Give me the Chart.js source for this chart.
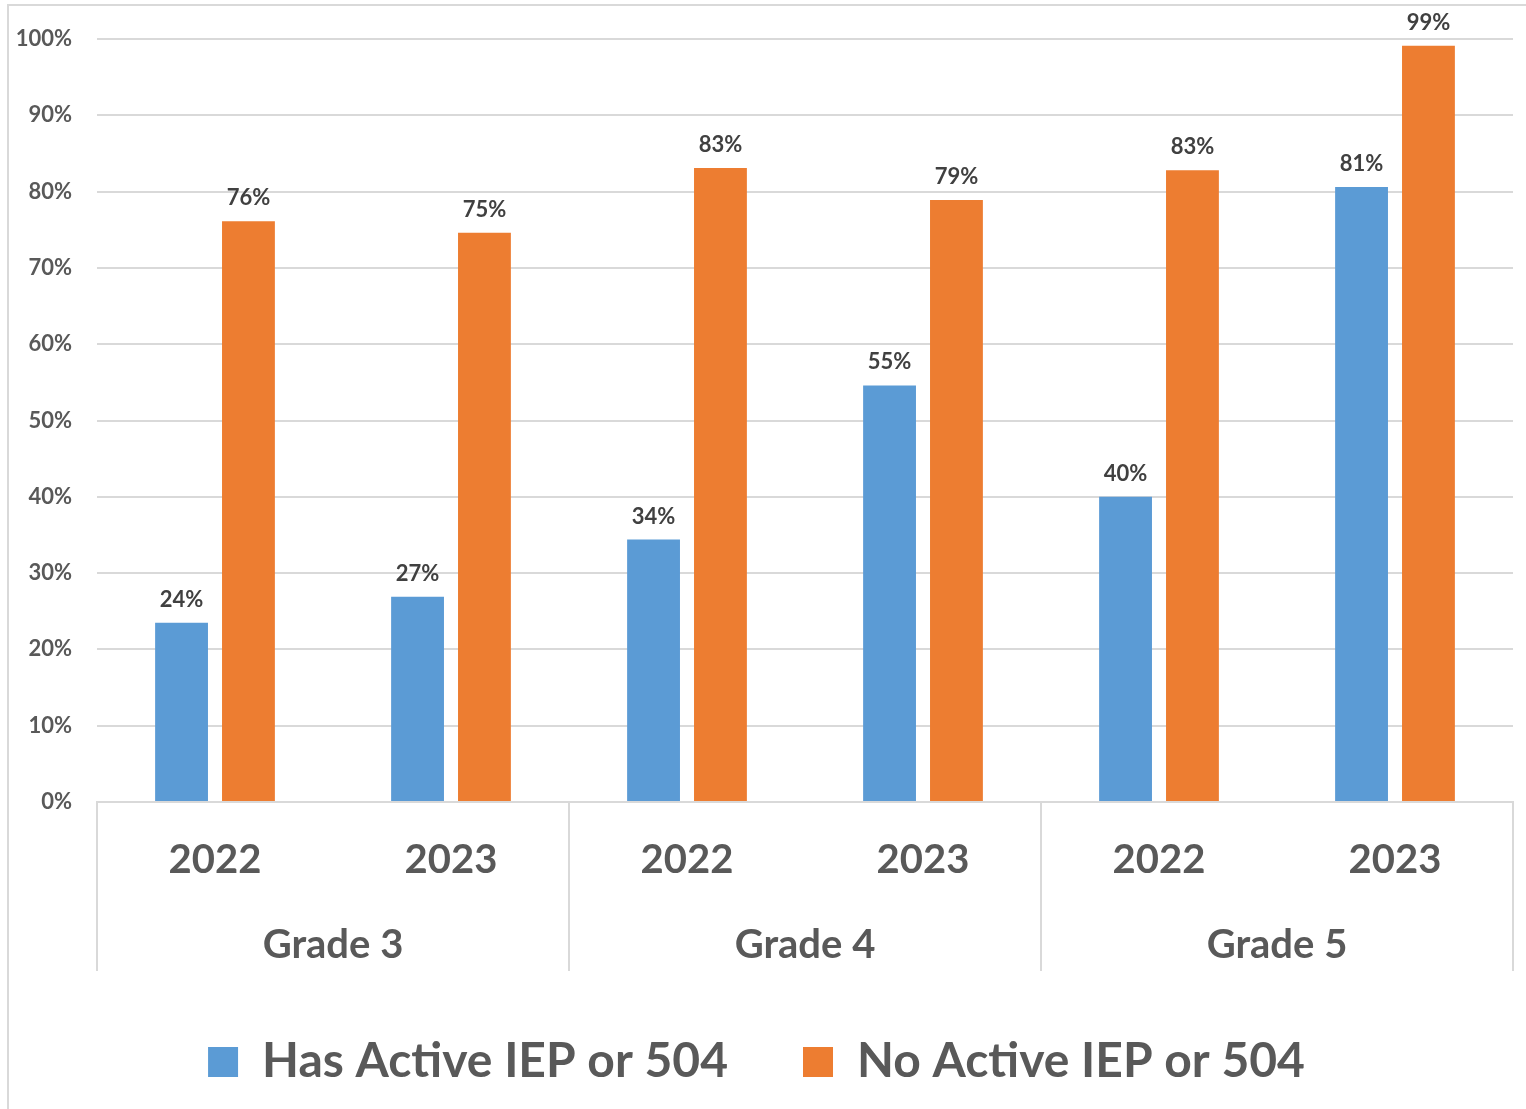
<!DOCTYPE html>
<html>
<head>
<meta charset="utf-8">
<script src="https://cdn.jsdelivr.net/npm/chart.js@4.4.1/dist/chart.umd.min.js"></script>
<style>
  html, body { margin: 0; padding: 0; background: #fff; }
  #wrap { position: relative; width: 1526px; height: 1109px; }
  #frame { position: absolute; left: 7px; top: 4px; right: 0; bottom: 0; border-top: 2px solid #d9d9d9; border-left: 2px solid #d9d9d9; pointer-events: none; }
  canvas { position: absolute; left: 0; top: 0; }
</style>
</head>
<body>
<div id="wrap">
  <canvas id="grafico" width="1526" height="1109"></canvas>
  <div id="frame"></div>
</div>
<script>
const anos = ['2022', '2023', '2022', '2023', '2022', '2023'];
const series = ['Grade 3', 'Grade 4', 'Grade 5'];
const temIep = [23.5, 26.9, 34.4, 54.6, 40.0, 80.6];
const semIep = [76.1, 74.6, 83.1, 78.9, 82.8, 99.1];
const nomesSeries = ['Has Active IEP or 504', 'No Active IEP or 504'];

const corTexto = '#595959';
const corGrade = '#d9d9d9';
const fonte = 'Lato, "Open Sans", sans-serif';

// rótulos em cima das barras
const rotulos = {
  id: 'rotulos',
  afterDatasetsDraw(chart) {
    const ctx = chart.ctx;
    ctx.save();
    ctx.font = 'bold 22px ' + fonte;
    ctx.fillStyle = '#404040';
    ctx.textAlign = 'center';
    ctx.textBaseline = 'bottom';
    chart.data.datasets.forEach((ds, i) => {
      chart.getDatasetMeta(i).data.forEach((bar, j) => {
        ctx.fillText(Math.round(ds.data[j]) + '%', bar.x, bar.y - 12);
      });
    });
    ctx.restore();
  }
};

// linhas verticais que separam os grupos
const separadores = {
  id: 'separadores',
  afterDraw(chart) {
    const ctx = chart.ctx;
    const x = chart.scales.x;
    const area = chart.chartArea;
    const fim = chart.scales.x2.top + 68;
    const xs = [area.left];
    for (let i = 1; i < anos.length - 1; i += 2) {
      xs.push((x.getPixelForValue(i) + x.getPixelForValue(i + 1)) / 2);
    }
    xs.push(area.right);
    ctx.save();
    ctx.strokeStyle = corGrade;
    ctx.lineWidth = 2;
    xs.forEach(px => {
      ctx.beginPath();
      ctx.moveTo(Math.round(px), area.bottom);
      ctx.lineTo(Math.round(px), fim);
      ctx.stroke();
    });
    ctx.restore();
  }
};

new Chart(document.getElementById('grafico'), {
  type: 'bar',
  data: {
    labels: anos,
    datasets: [
      { label: nomesSeries[0], data: temIep, backgroundColor: '#5b9bd5' },
      { label: nomesSeries[1], data: semIep, backgroundColor: '#ed7d31' }
    ]
  },
  options: {
    responsive: false,
    animation: false,
    layout: { padding: { left: 0, top: 39, right: 13, bottom: 13 } },
    datasets: { bar: { categoryPercentage: 0.567, barPercentage: 0.79 } },
    plugins: {
      tooltip: { enabled: false },
      legend: {
        position: 'bottom',
        labels: {
          color: corTexto,
          font: { family: fonte, size: 48, weight: 'bold' },
          boxWidth: 30,
          boxHeight: 30,
          padding: 75
        }
      }
    },
    scales: {
      y: {
        min: 0,
        max: 100,
        ticks: {
          stepSize: 10,
          padding: 25,
          color: corTexto,
          font: { family: fonte, size: 22, weight: 'bold' },
          callback: v => v + '%'
        },
        grid: { color: corGrade, lineWidth: 2, drawTicks: false },
        border: { display: false },
        afterFit(scale) { scale.width = 97; }
      },
      x: {
        type: 'category',
        labels: anos,
        offset: true,
        ticks: {
          padding: 26,
          color: corTexto,
          font: { family: fonte, size: 40, weight: 'bold' }
        },
        grid: { display: false },
        border: { display: true, color: corGrade, width: 2 },
        afterFit(scale) { scale.height = 101; }
      },
      x2: {
        type: 'category',
        position: 'bottom',
        labels: series,
        offset: true,
        ticks: {
          padding: 10,
          color: corTexto,
          font: { family: fonte, size: 40, weight: 'bold' }
        },
        grid: { display: false },
        border: { display: false },
        afterFit(scale) { scale.height = 60; }
      }
    }
  },
  plugins: [rotulos, separadores]
});
</script>
</body>
</html>
